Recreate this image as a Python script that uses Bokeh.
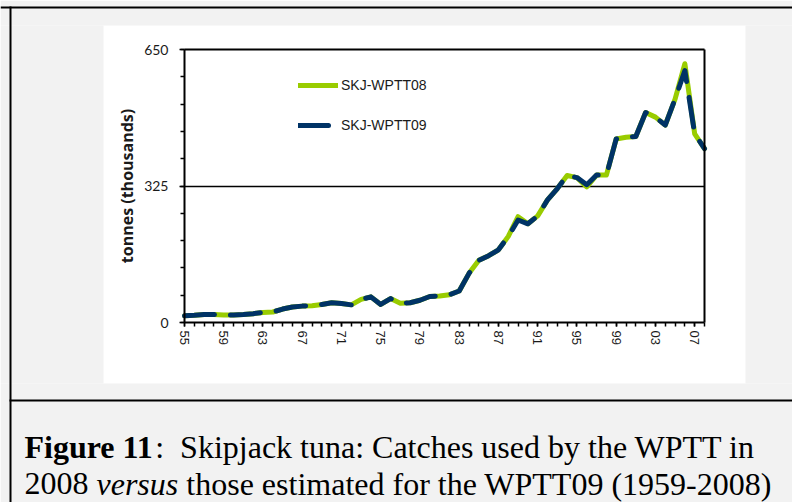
from bokeh.plotting import figure
from bokeh.models import (Range1d, FixedTicker, Legend, LegendItem, LinearAxis)
from bokeh.core.properties import value
from bokeh.embed import file_html
from bokeh.resources import INLINE

# ---------------- data ----------------
years = list(range(1955, 2009))
skj_wptt08 = [16, 17, 19, 19, 18, 18, 19, 21, 24, 25,
              32, 37, 39, 40, 43, 47, 45, 42, 55, 61,
              43, 57, 46, 47, 53, 62, 63, 66, 75, 117,
              148, 159, 173, 205, 252, 235, 254, 292, 319, 350,
              345, 323, 351, 351, 437, 441, 443, 500, 489, 470,
              532, 616, 449, 414]
skj_wptt09 = [16, 17, 19, 19, 18, 18, 19, 21, 24, 25,
              32, 37, 39, 40, 43, 47, 45, 42, 55, 61,
              43, 57, 46, 47, 53, 62, 63, 66, 75, 117,
              148, 159, 173, 205, 244, 235, 254, 292, 319, 350,
              345, 328, 351, 351, 437, 441, 443, 500, 489, 470,
              532, 600, 449, 414]
series_names = ["SKJ-WPTT08", "SKJ-WPTT09"]
x_major_years = [1955, 1959, 1963, 1967, 1971, 1975, 1979, 1983, 1987, 1991, 1995, 1999, 2003, 2007]
x_tick_labels = ["55", "59", "63", "67", "71", "75", "79", "83", "87", "91", "95", "99", "03", "07"]
y_major = [0, 325, 650]
y_minor = [0, 65, 130, 195, 260, 325, 390, 455, 520, 585, 650]
y_label = "tonnes (thousands)"
caption1 = ["Figure 11", ":", "Skipjack tuna: Catches used by the WPTT in"]
caption2 = ["2008", "versus", "those estimated for the WPTT09 (1959-2008)"]

GREEN = "#99cc00"
BLUE = "#003366"
GRAY = "#f2f2f2"

W, H = 792, 502
# plot area (frame of the chart) in page pixels
FL, FR, FT, FB = 184, 704, 49, 322

x0, x1 = years[0], years[-1]
y0, y1 = y_major[0], y_major[-1]
kx = (FR - FL) / (x1 - x0)
ky = (FB - FT) / (y1 - y0)
yr_range = Range1d(x0 - FL / kx, x1 + (W - FR) / kx)
tn_range = Range1d(y0 - (H - FB) / ky, y1 + FT / ky)

p = figure(width=W, height=H, output_backend="svg", toolbar_location=None,
           x_range=Range1d(0, W), y_range=Range1d(H, 0),
           x_axis_type=None, y_axis_type=None, min_border=0)
p.extra_x_ranges = {"yr": yr_range}
p.extra_y_ranges = {"tn": tn_range}
p.background_fill_color = "white"
p.border_fill_color = GRAY
p.outline_line_color = None

# ---------------- page decoration (page pixel coordinates) ----------------
p.quad(left=[0, 0, 0, 745], right=[W, W, 103, W], top=[0, 383, 25, 25],
       bottom=[25, H, 383, 383], fill_color=GRAY, line_color=None)
p.quad(left=[0, 9, 9], right=[W, 11, W], top=[6, 6, 399], bottom=[8, H, 401],
       fill_color="black", line_color=None)

# ---------------- data lines ----------------
r08 = p.line(years, skj_wptt08, line_color=GREEN, line_width=5,
             line_cap="round", line_join="round",
             x_range_name="yr", y_range_name="tn")
r09 = p.line(years, skj_wptt09, line_color=BLUE, line_width=5,
             line_dash="30 16", line_cap="round", line_join="round",
             x_range_name="yr", y_range_name="tn")


def plain_axis(fixed, bounds, side, width=2, level="guide"):
    ax = LinearAxis(x_range_name="yr", y_range_name="tn", fixed_location=fixed,
                    bounds=bounds, ticker=FixedTicker(ticks=[], minor_ticks=[]),
                    axis_line_color="black", axis_line_width=width,
                    major_tick_out=0, major_tick_in=0, minor_tick_out=0, minor_tick_in=0,
                    major_label_text_alpha=0, level=level)
    p.add_layout(ax, side)
    return ax


# horizontal reference line at 325 (drawn under the data lines)
plain_axis(y_major[1], (x0, x1), "below", width=1.5, level="underlay")
# top and right edges of the plot box
plain_axis(y1, (x0, x1), "above")
plain_axis(x1, (y0, y1), "right")

# y axis
ya = LinearAxis(x_range_name="yr", y_range_name="tn", fixed_location=x0, bounds=(y0, y1),
                ticker=FixedTicker(ticks=y_major, minor_ticks=y_minor))
ya.axis_line_width = 2
ya.axis_line_color = "black"
ya.major_tick_out = 5
ya.major_tick_in = 0
ya.minor_tick_out = 4
ya.minor_tick_in = 0
ya.major_tick_line_width = 1.5
ya.minor_tick_line_width = 1.5
ya.major_label_text_font = "Lato"
ya.major_label_text_font_size = "14px"
ya.major_label_text_color = "#1a1a1a"
ya.major_label_standoff = 11
ya.axis_label = y_label
ya.axis_label_text_font = "Open Sans"
ya.axis_label_text_font_style = "bold"
ya.axis_label_text_font_size = "16px"
ya.axis_label_text_color = "#1a1a1a"
ya.axis_label_standoff = 3
p.add_layout(ya, "left")

# x axis
xa = LinearAxis(x_range_name="yr", y_range_name="tn", fixed_location=y0, bounds=(x0, x1),
                ticker=FixedTicker(ticks=x_major_years, minor_ticks=years))
xa.major_label_overrides = {yy: s for yy, s in zip(x_major_years, x_tick_labels)}
xa.major_label_orientation = "vertical"
xa.axis_line_width = 2
xa.axis_line_color = "black"
xa.major_tick_out = 4
xa.major_tick_in = 0
xa.minor_tick_out = 4
xa.minor_tick_in = 0
xa.major_tick_line_width = 1.5
xa.minor_tick_line_width = 1.5
xa.major_label_text_font = "Liberation Sans"
xa.major_label_text_font_size = "13px"
xa.major_label_text_color = "#1a1a1a"
xa.major_label_standoff = 4
p.add_layout(xa, "below")

legend = Legend(items=[LegendItem(label=series_names[0], renderers=[r08]),
                       LegendItem(label=series_names[1], renderers=[r09])],
                location=(298, H - 135), orientation="vertical",
                glyph_width=40, glyph_height=20, label_height=20, spacing=20,
                label_standoff=3, padding=0, margin=0,
                border_line_alpha=0, background_fill_alpha=0,
                label_text_font="Liberation Sans", label_text_font_size="14px",
                label_text_color="#1a1a1a")
p.add_layout(legend)

# ---------------- caption ----------------
cap_font = value("Liberation Serif")
cap_size = value("32px")
p.text(x=[24], y=[446], text=[caption1[0]], text_font=cap_font, text_font_size=cap_size,
       text_font_style=value("bold"), text_baseline="alphabetic", text_color="black")
p.text(x=[154.7, 179.6], y=[446, 446], text=caption1[1:], text_font=cap_font,
       text_font_size=cap_size, text_baseline="alphabetic", text_color="black")
p.text(x=[24, 185.8], y=[483, 483], text=[caption2[0], caption2[2]], text_font=cap_font,
       text_font_size=cap_size, text_baseline="alphabetic", text_color="black")
p.text(x=[96], y=[483], text=[caption2[1]], text_font=cap_font,
       text_font_size=cap_size, text_font_style=value("italic"),
       text_baseline="alphabetic", text_color="black")

open("out.html", "w").write(file_html(p, INLINE))
